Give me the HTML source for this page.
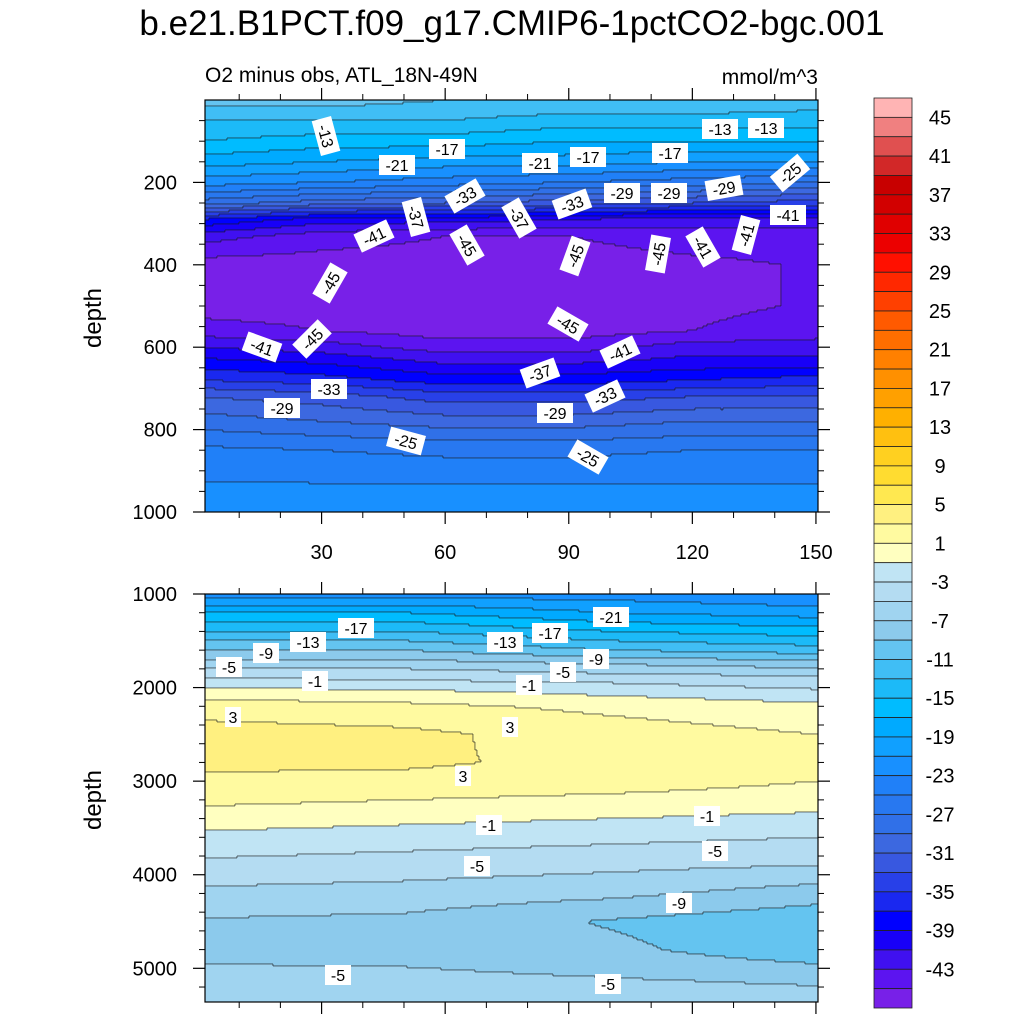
<!DOCTYPE html>
<html><head><meta charset="utf-8"><style>
body{margin:0;background:#fff;}
svg text{font-family:"Liberation Sans",sans-serif;fill:#000;}
</style></head><body>
<svg id="chart" width="1024" height="1024" viewBox="0 0 1024 1024" xmlns="http://www.w3.org/2000/svg">
<text x="512" y="35" font-size="35" text-anchor="middle">b.e21.B1PCT.f09_g17.CMIP6-1pctCO2-bgc.001</text>
<text x="205" y="82" font-size="21">O2 minus obs, ATL_18N-49N</text>
<text x="818" y="84" font-size="21" text-anchor="end">mmol/m^3</text>
<g id="topPanel"></g>
<g id="botPanel"></g>
<g id="cbar"></g>
<text transform="translate(101,318) rotate(-90)" font-size="24" text-anchor="middle">depth</text>
<text transform="translate(101,800) rotate(-90)" font-size="24" text-anchor="middle">depth</text>
</svg>
<script>
const NS="http://www.w3.org/2000/svg";
const levelBounds=[];for(let b=-45;b<=45;b+=2)levelBounds.push(b);
const levelColors=["#7820e8","#5c14f0","#4010f0","#1800f8","#0000ff","#1a28f0","#2840e8","#3858e0","#3c68e0","#3070e8","#2878f0","#2080f8","#1890ff","#10a0ff","#00aaff","#00bcff","#1cbaf8","#40bef5","#64c4f0","#8ccaec","#a0d4f0","#b4dcf2","#c0e4f4","#ffffc0","#fffaa0","#fff080","#ffe850","#ffdc30","#ffd020","#ffc010","#ffb000","#ffa000","#ff9000","#ff8000","#ff6e00","#ff5a00","#ff4000","#ff2800","#ff1000","#ec0000","#e00000","#d20000","#c80000","#d22828","#e05050","#f08080","#ffb4b4"];
const cbarLabels=[45,41,37,33,29,25,21,17,13,9,5,1,-3,-7,-11,-15,-19,-23,-27,-31,-35,-39,-43];
const topX=[0,30,60,90,120,150];
const topDepth=[0,50,100,150,200,250,290,330,400,500,560,600,640,680,720,780,850,950,1000];
const topVals=[
[-10,-13,-15,-18,-22,-28,-37,-42,-46,-46,-44,-41,-38,-35,-31,-28,-24.5,-22.5,-22],
[-10,-13,-16,-19,-23,-30,-40,-44,-46,-46,-45,-42,-39,-36,-32,-29,-25,-22.5,-22],
[-11,-13,-16,-20,-24,-31,-40,-45,-46,-46,-46,-44,-41,-38,-34,-30,-25.5,-22.5,-22],
[-11,-14,-17,-20,-25,-32,-41,-45,-46,-46,-46,-44,-41,-38,-34,-30,-25.5,-22.5,-22],
[-11,-14,-17,-21,-26,-33,-42,-44,-45.5,-45.5,-45,-42,-40,-37,-33,-29,-25,-22.5,-22],
[-12,-14,-17,-21,-27,-34,-42,-44,-44.8,-44.8,-44,-42,-40,-36,-33,-29,-25,-22.5,-22]];
const botX=[0,50,100,150];
const botDepth=[1000,1200,1400,1600,1750,1850,1950,2050,2200,2500,2800,3000,3200,3400,3600,3900,4200,4500,4800,5100,5360];
const botVals=[
[-22,-17,-13,-9,-6,-4,-2,0,2,4,3.5,2.5,1.5,0,-1.5,-3.5,-5.5,-7.2,-7.5,-6.5,-5],
[-22,-17,-13,-9,-6,-4,-2.5,-0.5,1.5,3.5,3.3,2.5,1,-0.5,-2,-4,-5.8,-7.5,-7.8,-6.5,-5],
[-22,-19,-15,-11,-7,-5,-3,-1.5,0.5,2,2.5,2,0.5,-1,-2.5,-4.5,-6.5,-9.2,-8.5,-7,-5.5],
[-23,-20,-16,-12,-8,-5.5,-4,-2.5,-0.5,1,1.5,1,0,-1.5,-3,-5,-8,-10.5,-10.5,-7.5,-6]];
const topXTicks=[30,60,90,120,150];
const topYTicks=[200,400,600,800,1000];
const botYTicks=[1000,2000,3000,4000,5000];

function el(tag,attrs,parent){const e=document.createElementNS(NS,tag);for(const k in attrs)e.setAttribute(k,attrs[k]);parent.appendChild(e);return e;}
function levelIndex(v){let i=0;while(i<levelBounds.length&&v>=levelBounds[i])i++;return i;}
function interp1(arr,v){let i=0;while(i<arr.length-2&&v>arr[i+1])i++;const t=Math.max(0,Math.min(1,(v-arr[i])/(arr[i+1]-arr[i])));return [i,t];}
function sample(xs,ds,vals,x,d){const [i,tx]=interp1(xs,x);const [j,td]=interp1(ds,d);
 const a=vals[i][j]*(1-td)+vals[i][j+1]*td;const b=vals[i+1][j]*(1-td)+vals[i+1][j+1]*td;return a*(1-tx)+b*tx;}

function drawPanel(g,xs,ds,vals,px0,px1,py0,py1,xmin,xmax,dmin,dmax,name){
 const sx=x=>px0+(x-xmin)/(xmax-xmin)*(px1-px0);
 const sy=d=>py0+(d-dmin)/(dmax-dmin)*(py1-py0);
 const step=2;
 const ncol=Math.ceil((px1-px0)/step);
 const lines=[];
 function emit(x0,x1,y,h,lev){
  const r=el('rect',{x:x0,y:y,width:x1-x0,height:h,fill:levelColors[lev]},g);
  
  
  if(x0>px0)lines.push([x0-0.5,y,0.9,h]);
 }
 let prev=null;
 for(let y=py0;y<py1;y+=step){
  const h=Math.min(step,py1-y);
  const d=dmin+(y+h/2-py0)/(py1-py0)*(dmax-dmin);
  const row=[];
  let runStart=px0,runLev=null;
  for(let c=0;c<ncol;c++){
   const x=px0+c*step;
   const xv=xmin+(x+step/2-px0)/(px1-px0)*(xmax-xmin);
   const lev=levelIndex(sample(xs,ds,vals,xv,d));
   row.push(lev);
   if(lev!==runLev){
    if(runLev!==null)emit(runStart,x,y,h,runLev);
    runStart=x;runLev=lev;
   }
  }
  emit(runStart,px1,y,h,runLev);
  if(prev){let s=-1;
   for(let c=0;c<=ncol;c++){const diff=c<ncol&&row[c]!==prev[c];
    if(diff&&s<0)s=c;
    if(!diff&&s>=0){lines.push([px0+s*step,y-0.5,Math.min((c-s)*step,px1-px0-s*step),0.9]);s=-1;}}
  }
  prev=row;
 }
 lines.forEach(([x,y,w,h])=>el('rect',{x:x,y:y,width:w,height:h,fill:'#1a1a1a','fill-opacity':0.7},g));
 const fr=el('rect',{x:px0,y:py0,width:px1-px0,height:py1-py0,fill:'none',stroke:'#000','stroke-width':1.2},g);
 
 
 return {sx,sy};
}

const tg=document.getElementById('topPanel');
const T=drawPanel(tg,topX,topDepth,topVals,205,818,100,512,1.7,150.5,0,1000,'upper');
const bg=document.getElementById('botPanel');
const B=drawPanel(bg,botX,botDepth,botVals,205,818,594,1002,1.7,150.5,1000,5360,'lower');

topXTicks.forEach(v=>{const x=T.sx(v);
 el('line',{x1:x,y1:512,x2:x,y2:524,stroke:'#000','stroke-width':1.2},tg);
 el('line',{x1:x,y1:100,x2:x,y2:88,stroke:'#000','stroke-width':1.2},tg);
 el('line',{x1:x,y1:1002,x2:x,y2:1014,stroke:'#000','stroke-width':1.2},bg);
 el('line',{x1:x,y1:594,x2:x,y2:582,stroke:'#000','stroke-width':1.2},bg);
 const t=el('text',{x:x,y:559,'font-size':20,'text-anchor':'middle'},tg);t.textContent=v;
 
 
});
for(let v=10;v<=150;v+=10){if(v%30===0)continue;const x=T.sx(v);
 el('line',{x1:x,y1:512,x2:x,y2:518,stroke:'#000'},tg);el('line',{x1:x,y1:100,x2:x,y2:94,stroke:'#000'},tg);
 el('line',{x1:x,y1:1002,x2:x,y2:1008,stroke:'#000'},bg);el('line',{x1:x,y1:594,x2:x,y2:588,stroke:'#000'},bg);}
topYTicks.forEach(v=>{const y=T.sy(v);
 el('line',{x1:205,y1:y,x2:193,y2:y,stroke:'#000','stroke-width':1.2},tg);
 el('line',{x1:818,y1:y,x2:830,y2:y,stroke:'#000','stroke-width':1.2},tg);
 const t=el('text',{x:177,y:y+7,'font-size':20,'text-anchor':'end'},tg);t.textContent=v;
 
 
});
for(let v=50;v<1000;v+=50){if(v%200===0)continue;const y=T.sy(v);
 el('line',{x1:205,y1:y,x2:199,y2:y,stroke:'#000'},tg);el('line',{x1:818,y1:y,x2:824,y2:y,stroke:'#000'},tg);}
botYTicks.forEach(v=>{const y=B.sy(v);
 el('line',{x1:205,y1:y,x2:193,y2:y,stroke:'#000','stroke-width':1.2},bg);
 el('line',{x1:818,y1:y,x2:830,y2:y,stroke:'#000','stroke-width':1.2},bg);
 const t=el('text',{x:177,y:y+7,'font-size':20,'text-anchor':'end'},bg);t.textContent=v;
 
 
});
for(let v=1200;v<5360;v+=200){if(v%1000===0)continue;const y=B.sy(v);
 el('line',{x1:205,y1:y,x2:199,y2:y,stroke:'#000'},bg);el('line',{x1:818,y1:y,x2:824,y2:y,stroke:'#000'},bg);}

const topLabels=[[326,136,'-13',75],[397,165,'-21',0],[447,149,'-17',0],[540,163,'-21',0],[588,157,'-17',0],[465,196,'-33',-30],[416,217,'-37',75],[519,218,'-37',60],[572,204,'-33',-20],[622,193,'-29',0],[669,193,'-29',0],[724,188,'-29',-10],[670,153,'-17',0],[720,129,'-13',0],[766,128,'-13',0],[790,173,'-25',-40],[788,215,'-41',0],[374,236,'-41',-25],[467,245,'-45',60],[575,256,'-45',-70],[658,254,'-45',-80],[703,247,'-41',60],[746,235,'-41',-75],[330,283,'-45',-60],[312,339,'-45',-45],[262,347,'-41',20],[568,324,'-45',30],[620,352,'-41',-25],[329,389,'-33',0],[540,373,'-37',-20],[605,396,'-33',-25],[282,408,'-29',0],[555,413,'-29',0],[406,441,'-25',15],[588,457,'-25',30]];
const botLabels=[[611,617,'-21',0],[356,628,'-17',0],[550,633,'-17',0],[308,642,'-13',0],[505,642,'-13',0],[266,653,'-9',0],[596,659,'-9',0],[229,667,'-5',0],[563,672,'-5',0],[315,681,'-1',0],[529,685,'-1',0],[233,717,'3',0],[510,727,'3',0],[463,776,'3',0],[489,825,'-1',0],[707,816,'-1',0],[715,851,'-5',0],[477,866,'-5',0],[679,903,'-9',0],[338,975,'-5',0],[608,984,'-5',0]];
function drawLabels(g,list){list.forEach(([x,y,s,a])=>{const gg=el('g',{transform:`translate(${x},${y}) rotate(${a})`},g);
 
 
 const w=s.length*10+6;el('rect',{x:-w/2,y:-10,width:w,height:20,fill:'#fff'},gg);
 const t=el('text',{x:0,y:6,'font-size':16,'text-anchor':'middle'},gg);t.textContent=s;});}
drawLabels(tg,topLabels);drawLabels(bg,botLabels);

const cb=document.getElementById('cbar');
const cTop=98,cBot=1008,cx=874,cw=38,n=levelColors.length,bh=(cBot-cTop)/n;
for(let i=0;i<n;i++){const idx=n-1-i;const r=el('rect',{x:cx,y:cTop+i*bh,width:cw,height:bh,fill:levelColors[idx],stroke:'#222','stroke-width':0.8},cb);
 
 }
cbarLabels.forEach(v=>{const k=levelBounds.indexOf(v);const y=cTop+(n-1-k)*bh;
 const t=el('text',{x:940,y:y+7,'font-size':20,'text-anchor':'middle'},cb);t.textContent=v;
 
 });
</script>
</body></html>
